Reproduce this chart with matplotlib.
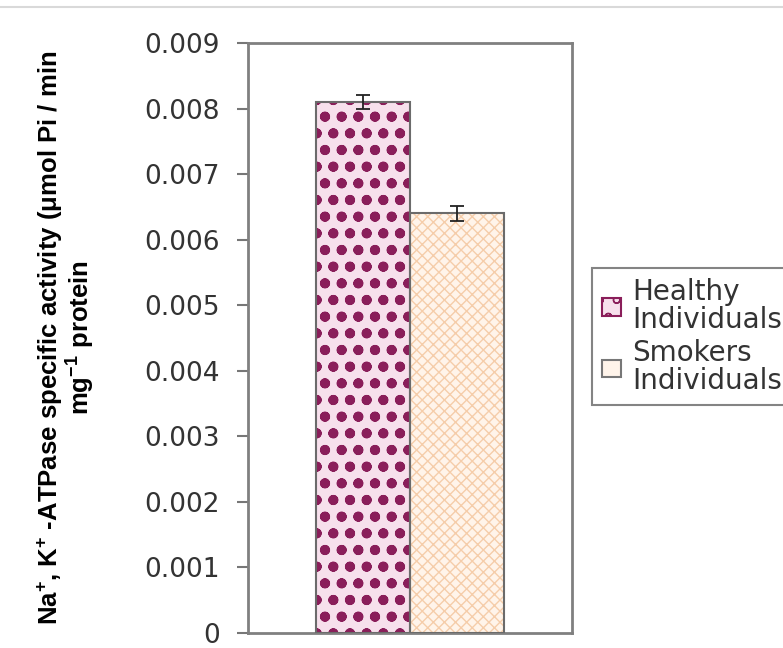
import matplotlib
matplotlib.use("Agg")
import matplotlib.pyplot as plt
from matplotlib.lines import Line2D
from matplotlib.patches import Patch

# data
groups = ["Healthy\nIndividuals", "Smokers\nIndividuals"]
values = [0.0081, 0.0064]
errors = [0.0001, 0.00012]
yticks = [0, 0.001, 0.002, 0.003, 0.004, 0.005, 0.006, 0.007, 0.008, 0.009]
ytick_labels = ["0", "0.001", "0.002", "0.003", "0.004", "0.005", "0.006", "0.007", "0.008", "0.009"]

plt.rcParams['mathtext.default'] = 'regular'

fig = plt.figure(figsize=(7.83, 6.48), dpi=100)
ax = fig.add_axes([0.3167, 0.0231, 0.4138, 0.9105])

width = 0.29
xpos = [-width / 2, width / 2]
hatch_cols = ["#8a1e5a", "#f5cdaa"]
face_cols = ["#f7e0ec", "#fff4ea"]
hatches = ["o.", "xxx"]
hatch_lw = [2.5, 1.0]

for i in range(2):
    # fill + hatch, then outline on top
    with plt.rc_context({'hatch.linewidth': hatch_lw[i]}):
        bars = ax.bar(xpos[i], values[i], width, color=face_cols[i], edgecolor=hatch_cols[i],
                      hatch=hatches[i], linewidth=0, zorder=2)
    for p in bars:
        if hasattr(p, "set_hatch_linewidth"):
            p.set_hatch_linewidth(hatch_lw[i])
    ax.bar(xpos[i], values[i], width, fill=False, edgecolor="#6b6b6b",
           linewidth=1.5, zorder=3)
    ax.errorbar(xpos[i], values[i], yerr=errors[i], fmt="none", ecolor="#222222",
                elinewidth=1.3, capsize=5, capthick=1.3, zorder=4)

ax.set_xlim(-0.5, 0.5)
ax.set_ylim(0, 0.009)
ax.set_yticks(yticks)
ax.set_yticklabels(ytick_labels, fontsize=19, color="#333333", family="DejaVu Sans")
ax.set_xticks([])
ax.tick_params(axis="y", length=8, width=1.5, color="#777777", pad=12)
for s in ax.spines.values():
    s.set_color("#808080")
    s.set_linewidth(2)

ax.set_ylabel("Na$^{+}$, K$^{+}$ -ATPase specific activity ($\\mu$mol Pi / min\nmg$^{-1}$ protein",
              fontsize=18.5, fontweight="bold", family="Liberation Sans", linespacing=1.0)
ax.yaxis.set_label_coords(-0.465, 0.5)

handles = [Patch(facecolor=face_cols[0], edgecolor=hatch_cols[0], hatch="o", linewidth=1.5),
           Patch(facecolor=face_cols[1], edgecolor="#777777", linewidth=1.5)]
leg = fig.legend(handles, groups, loc="upper left", bbox_to_anchor=(592 / 783, 1 - 268 / 648),
                 prop={"family": "DejaVu Sans", "size": 20}, frameon=True, fancybox=False,
                 handlelength=0.7, handleheight=0.6, handletextpad=0.4, borderpad=0.35,
                 labelspacing=0.2, borderaxespad=0)
leg.get_frame().set_edgecolor("#666666")
leg.get_frame().set_linewidth(1.5)
for t in leg.get_texts():
    t.set_color("#333333")
    t.set_linespacing(1.0)

# thin separator line at the top of the image
fig.add_artist(Line2D([0, 1], [1 - 7 / 648, 1 - 7 / 648], color="#d9d9d9", linewidth=1.5))

fig.savefig("out.png", dpi=100)
